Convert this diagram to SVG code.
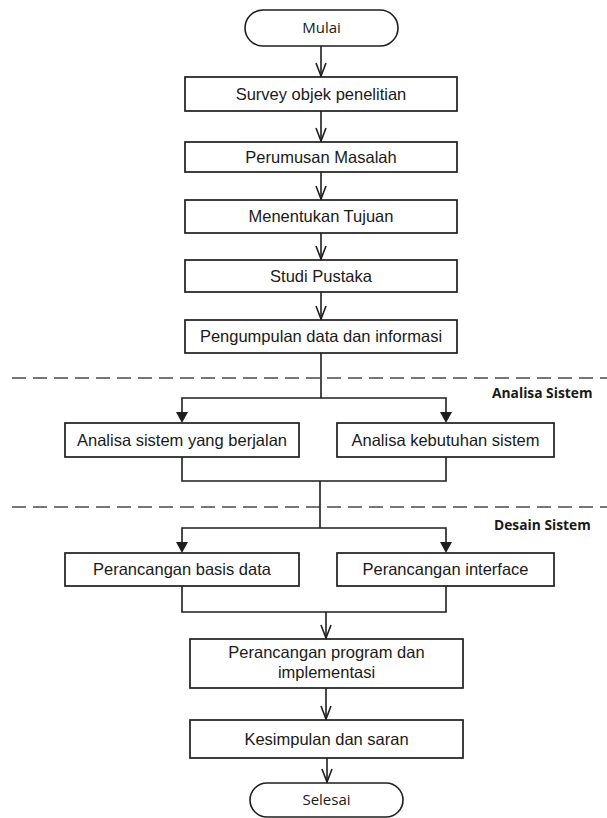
<svg xmlns="http://www.w3.org/2000/svg" width="607" height="818" viewBox="0 0 607 818">
  <style>
    .box { fill: #ffffff; stroke: #1e1e1e; stroke-width: 1.7; }
    .term { fill: #ffffff; stroke: #1e1e1e; stroke-width: 1.6; }
    .lbl { font-family: "Liberation Sans", Arial, sans-serif; font-size: 16.5px; fill: #1a1a1a; text-anchor: middle; }
    .tlbl { font-family: "Open Sans", "Noto Sans", sans-serif; font-size: 15px; fill: #1a1a1a; text-anchor: middle; }
    .sec { font-family: "Open Sans", "Noto Sans", sans-serif; font-size: 13.8px; font-weight: bold; fill: #1a1a1a; }
    .ln { fill: none; stroke: #1e1e1e; stroke-width: 1.6; }
    .open { fill: none; stroke: #1e1e1e; stroke-width: 1.6; stroke-linejoin: miter; }
    .solid { fill: #1e1e1e; stroke: none; }
    .dash { fill: none; stroke: #4a4a4a; stroke-width: 1.3; stroke-dasharray: 14 7; }
  </style>
  <rect width="607" height="818" fill="#ffffff"/>

  <!-- section separators -->
  <g id="separators">
    <line class="dash" x1="12" y1="378" x2="607" y2="378"/>
    <line class="dash" x1="12" y1="507" x2="607" y2="507"/>
    <text class="sec" x="492" y="398">Analisa Sistem</text>
    <text class="sec" x="494" y="530">Desain Sistem</text>
  </g>

  <!-- connectors -->
  <g id="connectors">
    <!-- main sequence -->
    <line class="ln" x1="321" y1="46" x2="321" y2="77"/>
    <polyline class="open" points="316,63 321,76 326,63"/>
    <line class="ln" x1="321" y1="111" x2="321" y2="142"/>
    <polyline class="open" points="316,128 321,141 326,128"/>
    <line class="ln" x1="321" y1="172" x2="321" y2="200"/>
    <polyline class="open" points="316,186 321,199 326,186"/>
    <line class="ln" x1="321" y1="233" x2="321" y2="260"/>
    <polyline class="open" points="316,246 321,259 326,246"/>
    <line class="ln" x1="321" y1="292" x2="321" y2="320"/>
    <polyline class="open" points="316,306 321,319 326,306"/>

    <!-- split into analysis -->
    <line class="ln" x1="321" y1="353" x2="321" y2="398"/>
    <polyline class="ln" points="182,413 182,398 446,398 446,413"/>
    <polygon class="solid" points="176,412 188,412 182,423"/>
    <polygon class="solid" points="440,412 452,412 446,423"/>

    <!-- merge analysis, split into design -->
    <polyline class="ln" points="182,457 182,481 446,481 446,457"/>
    <line class="ln" x1="320" y1="481" x2="320" y2="528"/>
    <polyline class="ln" points="182,543 182,528 446,528 446,543"/>
    <polygon class="solid" points="176,542 188,542 182,553"/>
    <polygon class="solid" points="440,542 452,542 446,553"/>

    <!-- merge design -->
    <polyline class="ln" points="182,586 182,612 446,612 446,586"/>
    <line class="ln" x1="326" y1="612" x2="326" y2="639"/>
    <polyline class="open" points="321,625 326,638 331,625"/>

    <line class="ln" x1="326" y1="688" x2="326" y2="720"/>
    <polyline class="open" points="321,706 326,719 331,706"/>
    <line class="ln" x1="327" y1="758" x2="327" y2="783"/>
    <polyline class="open" points="322,769 327,782 332,769"/>
  </g>

  <g id="mulai">
    <rect class="term" x="245" y="10" width="153" height="36" rx="18" ry="18"/>
    <text class="tlbl" x="321.5" y="33">Mulai</text>
  </g>
  <g id="survey">
    <rect class="box" x="185" y="77" width="272" height="34"/>
    <text class="lbl" x="321" y="100">Survey objek penelitian</text>
  </g>
  <g id="perumusan">
    <rect class="box" x="185" y="142" width="272" height="30"/>
    <text class="lbl" x="321" y="163">Perumusan Masalah</text>
  </g>
  <g id="tujuan">
    <rect class="box" x="185" y="200" width="272" height="33"/>
    <text class="lbl" x="321" y="222">Menentukan Tujuan</text>
  </g>
  <g id="pustaka">
    <rect class="box" x="185" y="260" width="272" height="32"/>
    <text class="lbl" x="321" y="282">Studi Pustaka</text>
  </g>
  <g id="pengumpulan">
    <rect class="box" x="185" y="320" width="272" height="33"/>
    <text class="lbl" x="321" y="342">Pengumpulan data dan informasi</text>
  </g>
  <g id="analisa-berjalan">
    <rect class="box" x="65" y="423" width="234" height="34"/>
    <text class="lbl" x="182" y="446">Analisa sistem yang berjalan</text>
  </g>
  <g id="analisa-kebutuhan">
    <rect class="box" x="337" y="423" width="217" height="34"/>
    <text class="lbl" x="445.5" y="446">Analisa kebutuhan sistem</text>
  </g>
  <g id="basis-data">
    <rect class="box" x="65" y="553" width="234" height="33"/>
    <text class="lbl" x="182" y="575">Perancangan basis data</text>
  </g>
  <g id="interface">
    <rect class="box" x="337" y="553" width="217" height="33"/>
    <text class="lbl" x="445.5" y="575">Perancangan interface</text>
  </g>
  <g id="program">
    <rect class="box" x="190" y="639" width="273" height="49"/>
    <text class="lbl" x="326.5" y="658">Perancangan program dan</text>
    <text class="lbl" x="326.5" y="678">implementasi</text>
  </g>
  <g id="kesimpulan">
    <rect class="box" x="190" y="720" width="273" height="38"/>
    <text class="lbl" x="326.5" y="745">Kesimpulan dan saran</text>
  </g>
  <g id="selesai">
    <rect class="term" x="250" y="783" width="153" height="34" rx="17" ry="17"/>
    <text class="tlbl" x="326.5" y="805">Selesai</text>
  </g>
</svg>
